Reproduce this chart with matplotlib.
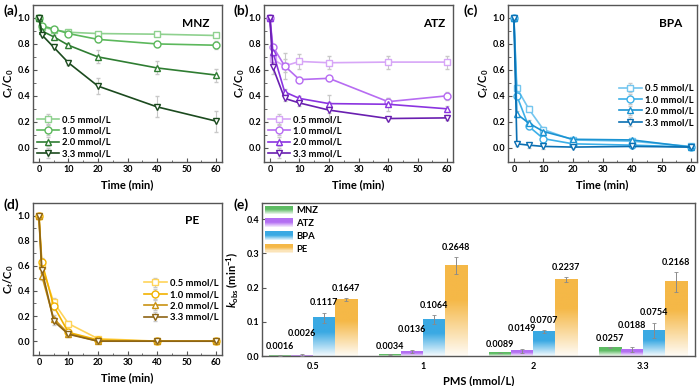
import matplotlib
matplotlib.use("Agg")
import numpy as np
import matplotlib.pyplot as plt
from matplotlib.colors import LinearSegmentedColormap, to_rgb
from matplotlib.legend_handler import HandlerBase
from matplotlib.patches import Rectangle

plt.rcParams['font.family'] = ['Lato', 'DejaVu Sans']
plt.rcParams['font.weight'] = 'bold'
plt.rcParams['axes.labelweight'] = 'bold'
plt.rcParams['mathtext.fontset'] = 'custom'
plt.rcParams['mathtext.rm'] = 'Lato:bold'
plt.rcParams['mathtext.it'] = 'Lato:italic:bold'
plt.rcParams['mathtext.bf'] = 'Lato:bold'

# ---- data ----
time = [0, 1, 5, 10, 20, 40, 60]
doses = ['0.5 mmol/L', '1.0 mmol/L', '2.0 mmol/L', '3.3 mmol/L']

mnz = [[1.0, 0.93, 0.91, 0.89, 0.88, 0.875, 0.865],
       [1.0, 0.94, 0.915, 0.88, 0.835, 0.80, 0.79],
       [1.0, 0.90, 0.855, 0.79, 0.70, 0.615, 0.56],
       [1.0, 0.87, 0.775, 0.655, 0.475, 0.315, 0.205]]
mnz_err = [[0, 0.01, 0.01, 0.01, 0.01, 0.01, 0.01],
           [0, 0.01, 0.01, 0.01, 0.02, 0.02, 0.03],
           [0, 0.01, 0.01, 0.02, 0.05, 0.05, 0.05],
           [0, 0.01, 0.01, 0.02, 0.06, 0.08, 0.08]]

atz = [[1.0, 0.68, 0.63, 0.665, 0.655, 0.66, 0.66],
       [1.0, 0.78, 0.63, 0.525, 0.535, 0.355, 0.40],
       [1.0, 0.74, 0.43, 0.38, 0.34, 0.335, 0.30],
       [1.0, 0.62, 0.38, 0.345, 0.29, 0.225, 0.23]]
atz_err = [[0, 0.03, 0.10, 0.06, 0.05, 0.05, 0.05],
           [0, 0.02, 0.05, 0.02, 0.02, 0.03, 0.03],
           [0, 0.02, 0.02, 0.02, 0.07, 0.05, 0.02],
           [0, 0.05, 0.02, 0.02, 0.06, 0.01, 0.02]]

bpa = [[1.0, 0.46, 0.30, 0.14, 0.06, 0.05, 0.01],
       [1.0, 0.40, 0.165, 0.07, 0.03, 0.02, 0.005],
       [1.0, 0.26, 0.19, 0.125, 0.065, 0.06, 0.005],
       [1.0, 0.03, 0.02, 0.01, 0.005, 0.01, 0.005]]
bpa_err = [[0, 0.02, 0.02, 0.02, 0.01, 0.01, 0.01]] * 4

pe = [[1.0, 0.60, 0.31, 0.14, 0.02, 0.0, 0.0],
      [1.0, 0.63, 0.28, 0.07, 0.01, 0.0, 0.0],
      [1.0, 0.52, 0.18, 0.06, 0.0, 0.0, 0.0],
      [1.0, 0.57, 0.16, 0.055, 0.0, 0.0, 0.0]]
pe_err = [[0, 0.03, 0.03, 0.02, 0.01, 0.01, 0.01]] * 4

pms = ['0.5', '1', '2', '3.3']
k_mnz = [0.0016, 0.0034, 0.0089, 0.0257]
k_atz = [0.0026, 0.0136, 0.0149, 0.0188]
k_bpa = [0.1117, 0.1064, 0.0707, 0.0754]
k_pe = [0.1647, 0.2648, 0.2237, 0.2168]
k_mnz_err = [0.0005, 0.001, 0.001, 0.002]
k_atz_err = [0.003, 0.004, 0.006, 0.008]
k_bpa_err = [0.015, 0.014, 0.004, 0.022]
k_pe_err = [0.004, 0.024, 0.007, 0.029]

# ---- style ----
greens = ['#8fd18f', '#5cb85c', '#2f7d32', '#1b4a1e']
purples = ['#d7a6f7', '#b76cf2', '#8b34e0', '#6a1fb0']
blues = ['#74c6ef', '#3db0e8', '#1b93d2', '#0b6fb2']
oranges = ['#ffd45a', '#f2b200', '#c99212', '#8d6414']
markers = ['s', 'o', '^', 'v']
bar_colors = ['#5dbb63', '#b36ff2', '#3aa9e3', '#f5b847']
spine_col = '#555555'

fig = plt.figure(figsize=(7, 3.86), dpi=100)
W, H = 700, 386


def ax_px(l, t, r, b):
    return fig.add_axes([l / W, 1 - b / H, (r - l) / W, (b - t) / H])


def style_ax(ax):
    for s in ax.spines.values():
        s.set_color(spine_col)
        s.set_linewidth(1.0)
    ax.tick_params(direction='in', labelsize=6.5, color=spine_col, length=3, width=0.8, pad=2)
    ax.tick_params(which='minor', direction='in', length=1.8, color=spine_col, width=0.6)
    for lab in ax.get_xticklabels() + ax.get_yticklabels():
        lab.set_fontweight('bold')


def kinetic(ax, data, err, colors, name, name_pos, leg_loc, leg_anchor):
    for i in range(4):
        ax.errorbar(time, data[i], yerr=err[i], color=colors[i], lw=1.2,
                    marker=markers[i], ms=5, mfc='white', mec=colors[i], mew=1.0,
                    ecolor='#c8c8c8', elinewidth=0.8, capsize=1.5, capthick=0.6,
                    label=doses[i])
    ax.set_xlim(-2, 62)
    ax.set_ylim(-0.11, 1.1)
    ax.set_xticks(range(0, 61, 10))
    ax.set_xticks(range(5, 61, 10), minor=True)
    ax.set_yticks(np.arange(0, 1.01, 0.2))
    ax.set_yticks(np.arange(0.1, 1.0, 0.2), minor=True)
    ax.set_yticklabels(['0.0', '0.2', '0.4', '0.6', '0.8', '1.0'])
    ax.set_xlabel('Time (min)', fontsize=8, labelpad=4)
    ax.set_ylabel('C$_t$/C$_0$', fontsize=8, labelpad=1)
    style_ax(ax)
    ax.text(name_pos[0], name_pos[1], name, transform=ax.transAxes, fontsize=8.5,
            fontweight='bold', ha='center', va='center')
    leg = ax.legend(loc=leg_loc, bbox_to_anchor=leg_anchor, frameon=False, fontsize=6.8,
                    handlelength=2.4, handletextpad=0.3, labelspacing=0.25, borderpad=0.2,
                    borderaxespad=0.2)
    for tx in leg.get_texts():
        tx.set_fontweight('bold')


ax_a = ax_px(33, 5, 222, 162)
kinetic(ax_a, mnz, mnz_err, greens, 'MNZ', (0.86, 0.885), 'lower left', (0, 0))
ax_b = ax_px(264, 5, 453, 162)
kinetic(ax_b, atz, atz_err, purples, 'ATZ', (0.9, 0.885), 'lower left', (0, 0))
ax_c = ax_px(508, 5, 697, 162)
kinetic(ax_c, bpa, bpa_err, blues, 'BPA', (0.86, 0.885), 'center right', (1.0, 0.36))
ax_d = ax_px(33, 203, 222, 355)
kinetic(ax_d, pe, pe_err, oranges, 'PE', (0.84, 0.885), 'center right', (1.0, 0.36))

# ---- panel (e) ----
ax_e = ax_px(262, 203, 695, 356)
x = np.arange(len(pms))
width = 0.2
series = [k_mnz, k_atz, k_bpa, k_pe]
series_err = [k_mnz_err, k_atz_err, k_bpa_err, k_pe_err]
names = ['MNZ', 'ATZ', 'BPA', 'PE']
label_off = [6, 15, 7, 7]


def grad_cmap(c):
    return LinearSegmentedColormap.from_list('g', [(1, 1, 1), to_rgb(c)])


t = np.linspace(0, 1, 128)
grad = (0.05 + 0.95 * np.clip(t / 0.62, 0, 1)).reshape(-1, 1)

for j in range(4):
    pos = x + (j - 1.5) * width
    bars = ax_e.bar(pos, series[j], width, color='none', edgecolor='none', label=names[j])
    for b in bars:
        bx, bw, bh = b.get_x(), b.get_width(), b.get_height()
        ax_e.imshow(grad, extent=[bx, bx + bw, 0, bh], origin='lower', aspect='auto',
                    cmap=grad_cmap(bar_colors[j]), vmin=0, vmax=1, zorder=2)
    ax_e.errorbar(pos, series[j], yerr=series_err[j], fmt='none', ecolor='#8a8a8a',
                  elinewidth=0.7, capsize=1.5, capthick=0.6, zorder=3)
    for p, v, e in zip(pos, series[j], series_err[j]):
        ax_e.annotate(f'{v:.4f}', (p, v + e), xytext=(0, label_off[j]),
                      textcoords='offset points', ha='center', va='center',
                      fontsize=6.5, fontweight='bold')

ax_e.set_xlim(-0.46, 3.47)
ax_e.set_ylim(0, 0.447)
ax_e.set_xticks(x)
ax_e.set_xticklabels(pms)
ax_e.set_yticks([0, 0.1, 0.2, 0.3, 0.4])
ax_e.set_yticklabels(['0.0', '0.1', '0.2', '0.3', '0.4'])
ax_e.set_ylabel(r'$\mathit{k}_{\mathrm{obs}}$ (min$^{-1}$)', fontsize=8, labelpad=4)
style_ax(ax_e)
ax_e.tick_params(axis='x', length=0, pad=4)
ax_e.set_xlabel('PMS (mmol/L)', fontsize=8, labelpad=3)


class GradHandler(HandlerBase):
    def __init__(self, color):
        super().__init__()
        self.color = color

    def create_artists(self, legend, orig_handle, xdescent, ydescent, width, height,
                       fontsize, trans):
        arts = []
        n = 8
        c = np.array(to_rgb(self.color))
        for k in range(n):
            f = min(1.0, (k + 0.5) / n / 0.6)
            col = 1 - (1 - c) * (0.1 + 0.9 * f)
            r = Rectangle((-xdescent, -ydescent + height * k / n), width, height / n + 0.2,
                          facecolor=col, edgecolor='none', transform=trans)
            arts.append(r)
        return arts


handles = [Rectangle((0, 0), 1, 1) for _ in names]
leg = ax_e.legend(handles, names, loc='upper left', frameon=False, fontsize=6.8,
                  handler_map={h: GradHandler(c) for h, c in zip(handles, bar_colors)},
                  handlelength=3.0, handleheight=1.0, handletextpad=0.3, labelspacing=0.35,
                  borderpad=0.1, borderaxespad=0.2)
for tx in leg.get_texts():
    tx.set_fontweight('bold')

# ---- panel letters ----
for lab, px, py in [('(a)', 3, 11), ('(b)', 233, 11), ('(c)', 463, 11),
                    ('(d)', 3, 205), ('(e)', 233, 205)]:
    fig.text(px / W, 1 - py / H, lab, fontsize=10, fontweight='bold', va='center', ha='left')

fig.savefig('out.png', dpi=100)
plt.close(fig)
